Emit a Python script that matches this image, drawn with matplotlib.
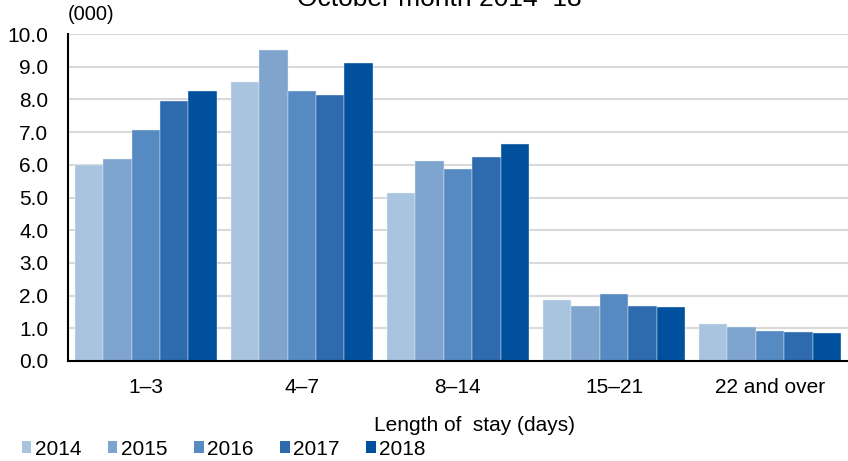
import numpy as np
import matplotlib.pyplot as plt
from matplotlib.patches import Patch

plt.rcParams['font.family'] = ['Liberation Sans', 'DejaVu Sans']

categories = ['1–3', '4–7', '8–14', '15–21', '22 and over']
years = ['2014', '2015', '2016', '2017', '2018']
values = {
    '2014': [6.00, 8.52, 5.13, 1.87, 1.13],
    '2015': [6.18, 9.50, 6.13, 1.69, 1.04],
    '2016': [7.08, 8.25, 5.87, 2.04, 0.91],
    '2017': [7.95, 8.13, 6.25, 1.69, 0.89],
    '2018': [8.27, 9.12, 6.65, 1.66, 0.86],
}
colors = ['#A9C4DF', '#7FA5CF', '#558AC2', '#2E6AAE', '#00509D']

fig = plt.figure(figsize=(8.48, 4.61), dpi=100)
ax = fig.add_axes([0.080, 0.217, 0.92, 0.709])

x = np.arange(len(categories))
w = 0.182
for i, yr in enumerate(years):
    ax.bar(x + (i - 2) * w, values[yr], width=w, color=colors[i],
           edgecolor='#E6EEF6', linewidth=0.3, zorder=3)

ax.set_xlim(-0.5, len(categories) - 0.5)
ax.set_ylim(0, 10)
ticks = np.arange(0, 10.1, 1.0)
ax.set_yticks(ticks)
ax.set_yticklabels([f'{v:.1f}' for v in ticks], fontsize=15)
ax.set_xticks(x)
ax.set_xticklabels(categories, fontsize=15)
ax.tick_params(length=0)
ax.tick_params(axis='x', pad=12)
ax.tick_params(axis='y', pad=14)
ax.yaxis.grid(True, color='#D9D9D9', linewidth=1.5, zorder=0)
ax.set_axisbelow(True)
for s in ['top', 'right']:
    ax.spines[s].set_visible(False)
for s in ['left', 'bottom']:
    ax.spines[s].set_linewidth(1.5)
    ax.spines[s].set_zorder(5)

fig.text(0.518, 1 - 5.5 / 461, 'October month 2014–18', ha='center', va='baseline', fontsize=19)
fig.text(0.107, 1 - 15 / 461, '(000)', ha='center', va='center', fontsize=14.5)
fig.text(0.559, 1 - 425 / 461, 'Length of  stay (days)', ha='center', va='center', fontsize=15)

handles = [Patch(facecolor=c, edgecolor='none') for c in colors]
fig.legend(handles, years, loc='center left', bbox_to_anchor=(22 / 848, 1 - 449 / 461),
           ncol=5, frameon=False, fontsize=15, handlelength=0.45, handleheight=0.45,
           handletextpad=0.15, columnspacing=1.3, borderpad=0, borderaxespad=0)

fig.savefig('out.png', dpi=100)
